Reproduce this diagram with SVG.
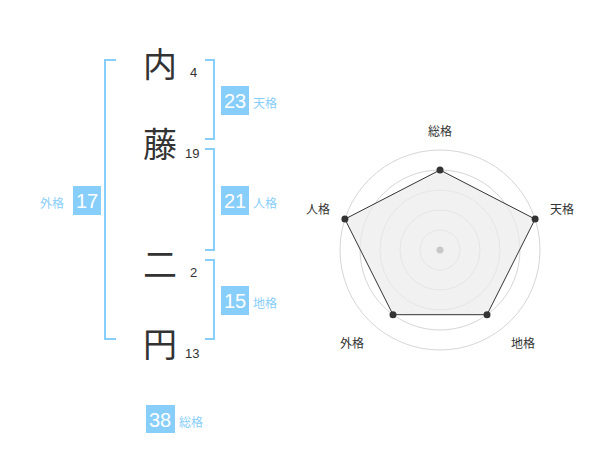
<svg xmlns="http://www.w3.org/2000/svg" width="600" height="470" viewBox="0 0 600 470">
<style>
.kanji{font-family:"Noto Sans CJK JP","Noto Sans CJK SC",sans-serif;font-size:34px;fill:#333;text-anchor:middle;dominant-baseline:central}
.num{font-family:"Liberation Sans",Arial,sans-serif;font-size:13px;fill:#333}
.br{fill:none;stroke:#87CEFA;stroke-width:2}
.box{fill:#87CEFA}
.bnum{font-family:"Liberation Sans",Arial,sans-serif;font-size:20px;fill:#fff;text-anchor:middle;dominant-baseline:central}
.blab{font-family:"Noto Sans CJK JP",sans-serif;font-size:12px;fill:#87CEFA;dominant-baseline:central}
.ring{fill:none;stroke:#d6d6d6;stroke-width:1}
.axl{font-family:"Noto Sans CJK JP",sans-serif;font-size:12px;fill:#333;text-anchor:middle;dominant-baseline:central}
</style>
<g id="name">
<g id="char1"><text class="kanji" x="160" y="62">内</text><text class="num" x="190" y="77">4</text></g>
<g id="char2"><text class="kanji" x="160" y="142">藤</text><text class="num" x="185" y="158">19</text></g>
<g id="char3"><text class="kanji" x="160" y="262">二</text><text class="num" x="190" y="277">2</text></g>
<g id="char4"><text class="kanji" x="160" y="342">円</text><text class="num" x="185" y="358">13</text></g>
</g>
<g id="connectors">
<path class="br" d="M116,60 H105 V339 H116"/>
<path class="br" d="M205,60 H214 V139 H205"/>
<path class="br" d="M205,149 H214 V250 H205"/>
<path class="br" d="M205,260 H214 V339 H205"/>
</g>
<g id="tenkaku"><rect class="box" x="221" y="86" width="28" height="29"/><text class="bnum" x="235" y="101">23</text><text class="blab" x="253" y="102">天格</text></g>
<g id="jinkaku"><rect class="box" x="221" y="186" width="28" height="29"/><text class="bnum" x="235" y="201">21</text><text class="blab" x="253" y="202">人格</text></g>
<g id="gaikaku"><rect class="box" x="73" y="186" width="28" height="29"/><text class="bnum" x="87" y="201">17</text><text class="blab" x="40" y="202">外格</text></g>
<g id="chikaku"><rect class="box" x="221" y="286" width="28" height="29"/><text class="bnum" x="235" y="301">15</text><text class="blab" x="253" y="302">地格</text></g>
<g id="soukaku"><rect class="box" x="146" y="405" width="29" height="28"/><text class="bnum" x="160" y="420">38</text><text class="blab" x="179" y="421">総格</text></g>
<g id="radar">
<circle class="ring" cx="440" cy="250" r="100"/>
<circle class="ring" cx="440" cy="250" r="80"/>
<circle class="ring" cx="440" cy="250" r="60"/>
<circle class="ring" cx="440" cy="250" r="40"/>
<circle class="ring" cx="440" cy="250" r="20"/>
<polygon points="440,170 535.1,219.1 487,314.7 393,314.7 344.9,219.1" fill="#ebebeb" fill-opacity="0.7" stroke="#333" stroke-width="1"/>
<circle cx="440" cy="250" r="3.5" fill="#c8c8c8"/>
<g fill="#333">
<circle cx="440" cy="170" r="3.5"/>
<circle cx="535.1" cy="219.1" r="3.5"/>
<circle cx="487" cy="314.7" r="3.5"/>
<circle cx="393" cy="314.7" r="3.5"/>
<circle cx="344.9" cy="219.1" r="3.5"/>
</g>
<text class="axl" x="440" y="130">総格</text>
<text class="axl" x="562" y="208">天格</text>
<text class="axl" x="523" y="342">地格</text>
<text class="axl" x="352" y="342">外格</text>
<text class="axl" x="318" y="208">人格</text>
</g>
</svg>
